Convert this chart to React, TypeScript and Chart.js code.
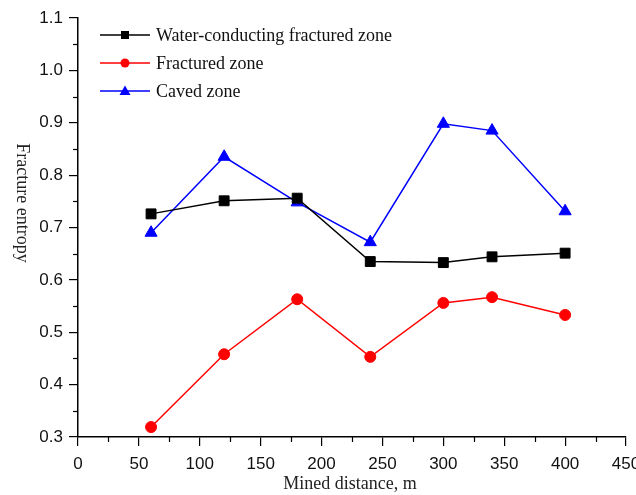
import React, { useEffect, useRef } from "react";
import { Chart, registerables } from "chart.js";

Chart.register(...registerables);

const minedDistance = [60, 120, 180, 240, 300, 340, 400];
const waterConducting = [0.726, 0.751, 0.756, 0.635, 0.633, 0.644, 0.651];
const fracturedZone = [0.319, 0.458, 0.563, 0.453, 0.556, 0.567, 0.533];
const cavedZone = [0.69, 0.835, 0.748, 0.672, 0.898, 0.885, 0.731];

const seriesNames = ["Water-conducting fractured zone", "Fractured zone", "Caved zone"];
const seriesColors = ["#000000", "#ff0000", "#0000ff"];
const seriesMarkers = ["rect", "circle", "triangle"];
const markerRadius = [7, 5.5, 7];

const xTitle = "Mined distance, m";
const yTitle = "Fracture entropy";

const SERIF = "'Liberation Serif', 'Times New Roman', serif";
const SANS = "'Liberation Sans', Arial, sans-serif";

// small legend marker
function drawMarker(ctx: CanvasRenderingContext2D, kind: string, x: number, y: number) {
  ctx.beginPath();
  if (kind === "rect") {
    ctx.rect(x - 4, y - 4, 8, 8);
  } else if (kind === "circle") {
    ctx.arc(x, y, 4.5, 0, Math.PI * 2);
  } else {
    ctx.moveTo(x, y - 5.5);
    ctx.lineTo(x + 5.5, y + 4);
    ctx.lineTo(x - 5.5, y + 4);
    ctx.closePath();
  }
  ctx.fill();
}

// Minor ticks, axis titles and inset legend
const decorations = {
  id: "decorations",
  afterDraw(chart: any) {
    const ctx = chart.ctx;
    const xs = chart.scales.x;
    const ys = chart.scales.y;
    const area = chart.chartArea;
    ctx.save();
    ctx.strokeStyle = "#000";
    ctx.lineWidth = 1.2;
    for (let v = 25; v < 450; v += 50) {
      const px = Math.round(xs.getPixelForValue(v)) + 0.5;
      ctx.beginPath();
      ctx.moveTo(px, area.bottom);
      ctx.lineTo(px, area.bottom + 5);
      ctx.stroke();
    }
    for (let v = 0.35; v < 1.1; v += 0.1) {
      const py = Math.round(ys.getPixelForValue(v)) + 0.5;
      ctx.beginPath();
      ctx.moveTo(area.left, py);
      ctx.lineTo(area.left - 5, py);
      ctx.stroke();
    }
    // x axis title
    ctx.font = `18px ${SERIF}`;
    ctx.fillStyle = "#222";
    ctx.textAlign = "center";
    ctx.textBaseline = "middle";
    ctx.fillText(xTitle, (area.left + area.right) / 2 - 2, 484);

    // y axis title, reading top to bottom
    ctx.save();
    ctx.translate(22, 203);
    ctx.rotate(Math.PI / 2);
    ctx.fillText(yTitle, 0, 0);
    ctx.restore();

    // legend
    const rows = [35, 63, 91];
    for (let i = 0; i < seriesNames.length; i++) {
      const y = rows[i];
      ctx.strokeStyle = seriesColors[i];
      ctx.lineWidth = 1.5;
      ctx.beginPath();
      ctx.moveTo(100, y);
      ctx.lineTo(150, y);
      ctx.stroke();
      ctx.fillStyle = seriesColors[i];
      drawMarker(ctx, seriesMarkers[i], 125, y);
      ctx.fillStyle = "#111";
      ctx.font = `18px ${SERIF}`;
      ctx.textAlign = "left";
      ctx.textBaseline = "middle";
      ctx.fillText(seriesNames[i], 156, y + 1);
    }
    ctx.restore();
  },
};

export default function App() {
  const canvasRef = useRef<HTMLCanvasElement>(null);

  useEffect(() => {
    const series = [waterConducting, fracturedZone, cavedZone];
    const chart = new Chart(canvasRef.current!, {
      type: "line",
      data: {
        datasets: series.map((vals, i) => ({
          label: seriesNames[i],
          data: minedDistance.map((x, j) => ({ x, y: vals[j] })),
          borderColor: seriesColors[i],
          backgroundColor: seriesColors[i],
          borderWidth: 1.5,
          pointStyle: seriesMarkers[i] as any,
          pointRadius: markerRadius[i],
          pointBorderWidth: 1,
          tension: 0,
        })),
      },
      options: {
        animation: false,
        responsive: false,
        layout: { padding: { top: 18, right: 10, left: 0, bottom: 0 } },
        plugins: { legend: { display: false }, tooltip: { enabled: false } },
        scales: {
          x: {
            type: "linear",
            min: 0,
            max: 450,
            afterFit(scale: any) {
              scale.height = 58;
              scale.paddingRight = 0;
              scale.paddingLeft = 0;
            },
            ticks: { stepSize: 50, color: "#111", font: { family: SANS, size: 17 }, padding: 8, maxRotation: 0 },
            grid: { drawOnChartArea: false, drawTicks: true, tickLength: 9, color: "#000", lineWidth: 1.2 },
            border: { display: true, color: "#000", width: 1.5 },
          },
          y: {
            type: "linear",
            min: 0.3,
            max: 1.1,
            afterFit(scale: any) {
              scale.width = 78;
              scale.paddingTop = 0;
              scale.paddingBottom = 0;
            },
            ticks: {
              stepSize: 0.1,
              color: "#111",
              font: { family: SANS, size: 17 },
              padding: 6,
              callback: (v: any) => Number(v).toFixed(1),
            },
            grid: { drawOnChartArea: false, drawTicks: true, tickLength: 9, color: "#000", lineWidth: 1.2 },
            border: { display: true, color: "#000", width: 1.5 },
          },
        },
      },
      plugins: [decorations],
    });
    return () => chart.destroy();
  }, []);

  return (
    <div style={{ position: "fixed", left: 0, top: 0, width: 636, height: 495, background: "#fff" }}>
      <canvas ref={canvasRef} width={636} height={495} />
    </div>
  );
}
